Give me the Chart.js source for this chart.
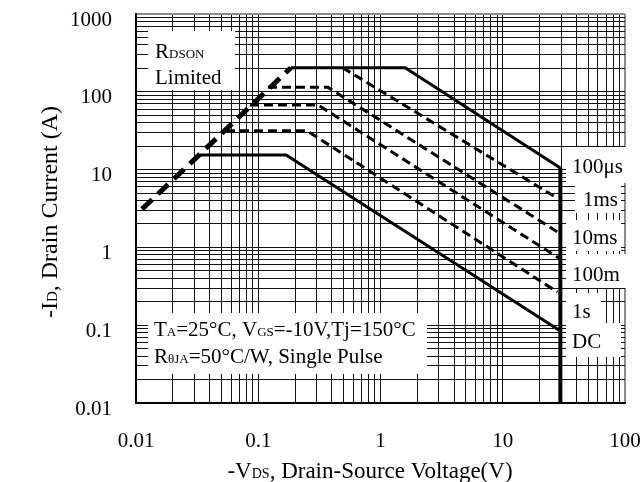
<!DOCTYPE html>
<html>
<head>
<meta charset="utf-8">
<script src="https://cdn.jsdelivr.net/npm/chart.js@4.4.0/dist/chart.umd.min.js"></script>
<style>
html, body { margin: 0; padding: 0; background: #fff; }
#wrap { width: 643px; height: 482px; position: relative; }
</style>
</head>
<body>
<div id="wrap"><canvas id="soa"></canvas></div>
<script>
// 轴的十进位刻度
var xDecades = [0.01, 0.1, 1, 10, 100];
var xTickLabels = ['0.01', '0.1', '1', '10', '100'];
var yDecades = [0.01, 0.1, 1, 10, 100, 1000];
var yTickLabels = ['0.01', '0.1', '1', '10', '100', '1000'];

// 曲线数据  V = -Vds (V), I = -Id (A)
var rdsonV = [0.0112, 0.185];
var rdsonI = [3.1, 204];
var us100V = [0.185, 1.59, 29.6];
var us100I = [204, 204, 10.5];
var vmaxV = [29.6, 29.6];
var vmaxI = [10.5, 0.01];
var ms1V = [0.49, 27];
var ms1I = [204, 4.44];
var ms10V = [0.12, 0.372, 29];
var ms10I = [114, 114, 1.53];
var ms100V = [0.0856, 0.308, 29.6];
var ms100I = [67.7, 67.7, 0.71];
var s1V = [0.0545, 0.25, 28];
var s1I = [31.6, 31.6, 0.267];
var dcV = [0.0334, 0.169, 29.4];
var dcI = [15.4, 15.4, 0.085];

var curveLabels = ['100μs', '1ms', '10ms', '100m', '1s', 'DC'];

function pts(vs, is) {
    return vs.map(function (v, i) { return { x: v, y: is[i] }; });
}

// 1..9 x 10^n 的网格
function gridValues(decades) {
    var vals = [];
    for (var i = 0; i < decades.length - 1; i++) {
        for (var k = 1; k <= 9; k++) {
            vals.push(parseFloat((decades[i] * k).toPrecision(3)));
        }
    }
    vals.push(decades[decades.length - 1]);
    return vals;
}

function decadeLabel(value, decades, labels) {
    for (var i = 0; i < decades.length; i++) {
        if (Math.abs(value - decades[i]) < decades[i] * 1e-6) return labels[i];
    }
    return '';
}

// 带下标的文字，size 为主字号
function richText(ctx, parts, x, y, align, size) {
    size = size || 21;
    var big = size + 'px "Liberation Serif"';
    var small = Math.round(size * 0.62) + 'px "Liberation Serif"';
    var w = 0;
    parts.forEach(function (p) {
        ctx.font = p[1] ? small : big;
        w += ctx.measureText(p[0]).width;
    });
    var cx = align === 'center' ? x - w / 2 : x;
    ctx.textAlign = 'left';
    ctx.textBaseline = 'alphabetic';
    parts.forEach(function (p) {
        ctx.font = p[1] ? small : big;
        ctx.fillText(p[0], cx, y);
        cx += ctx.measureText(p[0]).width;
    });
}

// 去掉刻度文字带来的额外留白，固定绘图区
function noPad(scale) {
    scale.paddingTop = 0;
    scale.paddingBottom = 0;
    scale.paddingLeft = 0;
    scale.paddingRight = 0;
}

// 白底文字框
var notesPlugin = {
    id: 'notes',
    beforeDatasetsDraw: function (chart) {
        var ctx = chart.ctx;
        ctx.save();
        ctx.fillStyle = '#fff';
        [
            [148, 31, 235, 90],
            [148, 313, 427, 374],
            [566, 147, 627, 183],
            [575, 183, 621, 213],
            [566, 220, 621, 251],
            [566, 254, 627, 288],
            [566, 293, 601, 323],
            [566, 323, 621, 357]
        ].forEach(function (b) {
            ctx.fillRect(b[0], b[1], b[2] - b[0], b[3] - b[1]);
        });
        ctx.fillStyle = '#000';
        richText(ctx, [['R', false], ['DSON', true]], 155, 58);
        richText(ctx, [['Limited', false]], 155, 84);
        richText(ctx, [['T', false], ['A', true], ['=25°C, V', false], ['GS', true], ['=-10V,Tj=150°C', false]], 154, 336);
        richText(ctx, [['R', false], ['θJA', true], ['=50°C/W, Single Pulse', false]], 154, 363);
        var lx = [572, 583, 572, 572, 572, 572];
        var ly = [173, 206, 244, 281, 318, 348];
        curveLabels.forEach(function (t, i) {
            richText(ctx, [[t, false]], lx[i], ly[i]);
        });
        ctx.restore();
    },
    afterDraw: function (chart) {
        var ctx = chart.ctx;
        ctx.save();
        ctx.fillStyle = '#000';
        richText(ctx, [['-V', false], ['DS', true], [', Drain-Source Voltage(V)', false]], 370, 478, 'center', 23);
        ctx.translate(57, 212);
        ctx.rotate(-Math.PI / 2);
        richText(ctx, [['-I', false], ['D', true], [', Drain Current (A)', false]], 0, 0, 'center', 24);
        ctx.restore();
    }
};

function line(data, width, dash) {
    return {
        data: data,
        showLine: true,
        borderColor: '#000',
        backgroundColor: '#000',
        borderWidth: width,
        borderDash: dash || [],
        borderCapStyle: 'butt',
        borderJoinStyle: 'miter',
        pointRadius: 0,
        fill: false,
        tension: 0
    };
}

var ctx = document.getElementById('soa').getContext('2d');
new Chart(ctx, {
    type: 'scatter',
    data: {
        datasets: [
            line(pts(rdsonV, rdsonI), 5, [14, 8]),
            line(pts(us100V, us100I), 3),
            line(pts(vmaxV, vmaxI), 4),
            line(pts(ms1V, ms1I), 3, [9, 5]),
            line(pts(ms10V, ms10I), 3, [9, 5]),
            line(pts(ms100V, ms100I), 3, [9, 5]),
            line(pts(s1V, s1I), 3, [9, 5]),
            line(pts(dcV, dcI), 3)
        ]
    },
    options: {
        responsive: true,
        maintainAspectRatio: false,
        animation: false,
        devicePixelRatio: 1,
        layout: { padding: { top: 14, right: 18, left: 0, bottom: 0 } },
        plugins: {
            legend: { display: false },
            tooltip: { enabled: false }
        },
        scales: {
            x: {
                type: 'logarithmic',
                min: 0.01,
                max: 100,
                afterBuildTicks: function (scale) {
                    scale.ticks = gridValues(xDecades).map(function (v) { return { value: v }; });
                },
                afterFit: function (scale) { scale.height = 79; noPad(scale); },
                grid: {
                    drawTicks: false,
                    color: function (c) { return c.tick && c.tick.value === 100 ? '#8c8c8c' : '#111'; },
                    lineWidth: function (c) { return c.tick && c.tick.value === 100 ? 2 : 1; }
                },
                border: { color: '#000', width: 2 },
                ticks: {
                    autoSkip: false,
                    maxRotation: 0,
                    minRotation: 0,
                    padding: 26,
                    color: '#000',
                    font: { family: 'Liberation Serif', size: 21 },
                    callback: function (value) { return decadeLabel(value, xDecades, xTickLabels); }
                }
            },
            y: {
                type: 'logarithmic',
                min: 0.01,
                max: 1000,
                afterBuildTicks: function (scale) {
                    scale.ticks = gridValues(yDecades).map(function (v) { return { value: v }; });
                },
                afterFit: function (scale) { scale.width = 136; noPad(scale); },
                grid: {
                    drawTicks: false,
                    color: function (c) { return c.tick && c.tick.value === 1000 ? '#8c8c8c' : '#111'; },
                    lineWidth: function (c) { return c.tick && c.tick.value === 1000 ? 2 : 1; }
                },
                border: { color: '#000', width: 2 },
                ticks: {
                    autoSkip: false,
                    padding: 24,
                    labelOffset: 6,
                    color: '#000',
                    font: { family: 'Liberation Serif', size: 21 },
                    callback: function (value) { return decadeLabel(value, yDecades, yTickLabels); }
                }
            }
        }
    },
    plugins: [notesPlugin]
});
</script>
</body>
</html>
